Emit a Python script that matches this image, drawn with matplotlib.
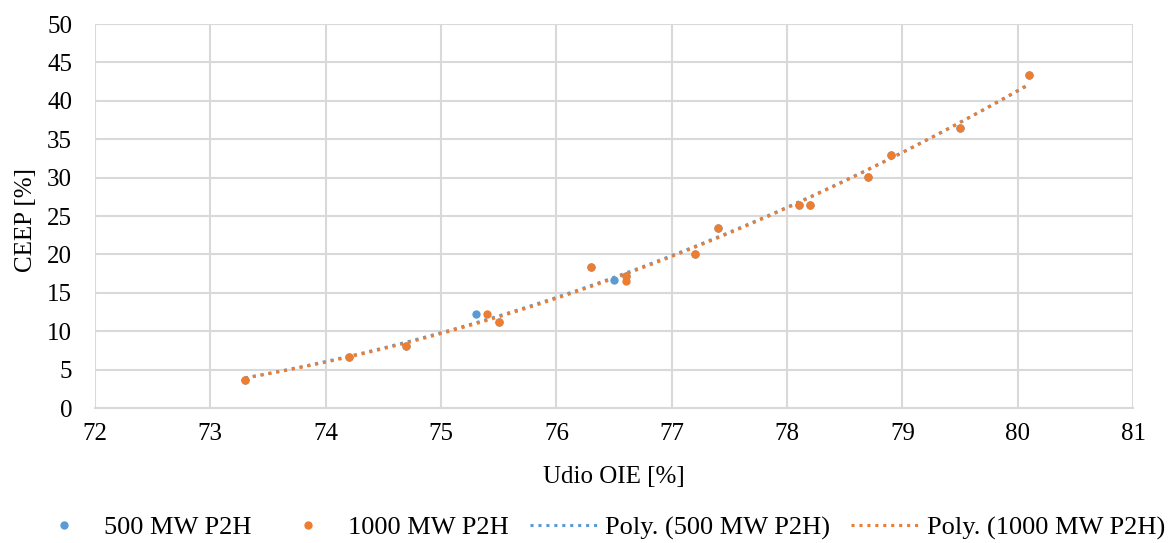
import numpy as np
import matplotlib.pyplot as plt
from matplotlib.lines import Line2D

plt.rcParams['font.family'] = ['Liberation Serif', 'DejaVu Serif']

# 500 MW P2H series
x_500 = [73.3, 74.2, 74.7, 75.3, 75.5, 76.3, 76.5, 76.6, 77.2, 77.4, 78.1, 78.2, 78.7, 78.9, 79.5, 80.1]
y_500 = [3.7, 6.6, 8.1, 12.2, 11.2, 18.3, 16.7, 17.2, 20.1, 23.5, 26.4, 26.4, 30.1, 33.0, 36.5, 43.3]

# 1000 MW P2H series
x_1000 = [73.3, 74.2, 74.7, 75.4, 75.5, 76.3, 76.6, 76.6, 77.2, 77.4, 78.1, 78.2, 78.7, 78.9, 79.5, 80.1]
y_1000 = [3.7, 6.6, 8.1, 12.2, 11.2, 18.3, 17.2, 16.6, 20.1, 23.5, 26.4, 26.4, 30.1, 33.0, 36.5, 43.3]

x_ticks = list(range(72, 82))
y_ticks = list(range(0, 55, 5))

blue = '#5B9BD5'
orange = '#ED7D31'
grid_col = '#D9D9D9'
fs = 18

fig = plt.figure(figsize=(11.73, 5.43), dpi=100)
ax = fig.add_axes([0.081, 0.2486, 0.885, 0.7072])

dots = (0, (1, 1.6))


def poly_line(x, y):
    c = np.polyfit(x, y, 2)
    xs = np.linspace(min(x), max(x), 200)
    return xs, np.polyval(c, xs)


xs, ys = poly_line(x_500, y_500)
ax.plot(xs, ys, color=blue, lw=2.2, linestyle=dots, zorder=2)
xs, ys = poly_line(x_1000, y_1000)
ax.plot(xs, ys, color=orange, lw=2.2, linestyle=dots, zorder=3)

ax.scatter(x_500, y_500, s=36, color=blue, zorder=4, linewidths=0)
ax.scatter(x_1000, y_1000, s=36, color=orange, zorder=5, linewidths=0)

ax.set_xlim(72, 81)
ax.set_ylim(0, 50)
ax.set_xticks(x_ticks)
ax.set_yticks(y_ticks)
ax.grid(True, color=grid_col, lw=1.5, zorder=0)
ax.set_axisbelow(True)
for side in ['left', 'right', 'top']:
    ax.spines[side].set_visible(False)
ax.spines['bottom'].set_color(grid_col)
ax.spines['bottom'].set_linewidth(1.5)
ax.tick_params(length=0, labelsize=fs, colors='black')
ax.tick_params(axis='x', pad=11)
ax.tick_params(axis='y', pad=16.5)

ax.set_xlabel('Udio OIE [%]', fontsize=fs)
ax.set_ylabel('CEEP [%]', fontsize=fs)
ax.xaxis.set_label_coords(0.5, -0.151)
ax.yaxis.set_label_coords(-0.056, 0.49)

handles = [
    Line2D([], [], marker='o', ls='none', color=blue, markersize=6, markeredgewidth=0),
    Line2D([], [], marker='o', ls='none', color=orange, markersize=6, markeredgewidth=0),
    Line2D([], [], color=blue, lw=2.2, linestyle=dots),
    Line2D([], [], color=orange, lw=2.2, linestyle=dots),
]
labels = ['500 MW P2H', '1000 MW P2H', 'Poly. (500 MW P2H)', 'Poly. (1000 MW P2H)']
fig.legend(handles, labels, loc='center', bbox_to_anchor=(0.509, 0.028), ncol=4,
           frameon=False, fontsize=19, handlelength=2.65, columnspacing=0.8,
           handletextpad=0.2, borderpad=0, borderaxespad=0)

fig.savefig('out.png', dpi=100)
